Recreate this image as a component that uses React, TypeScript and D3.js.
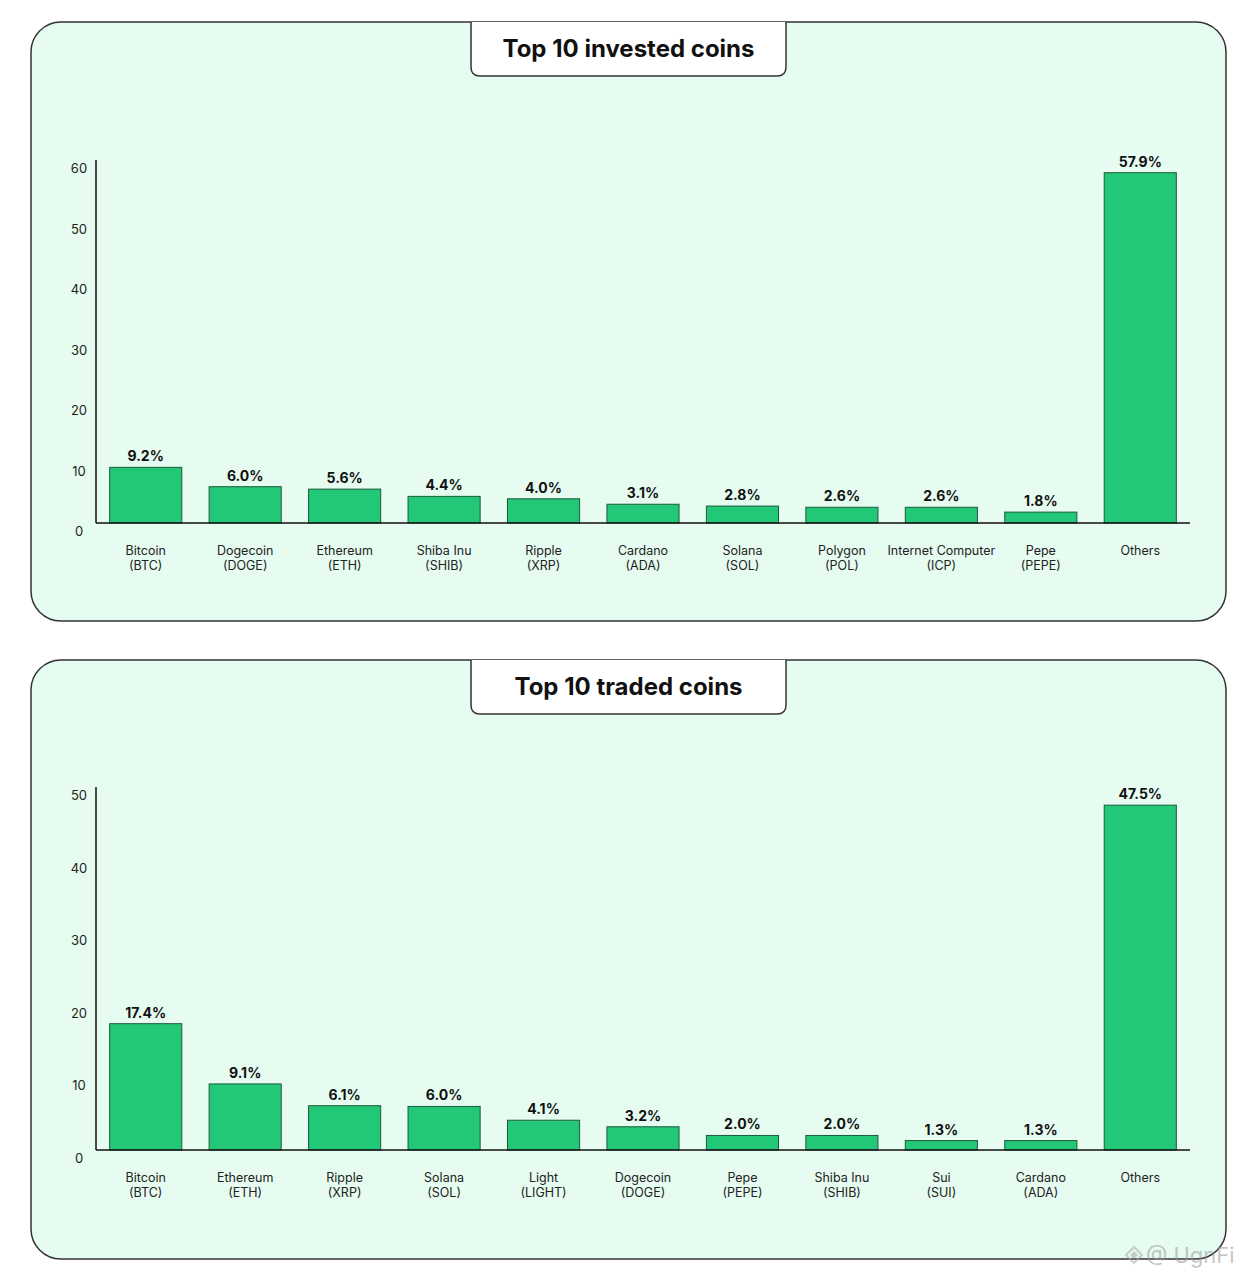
import React from "react";
import * as d3 from "d3";

const investedNames = ["Bitcoin", "Dogecoin", "Ethereum", "Shiba Inu", "Ripple", "Cardano", "Solana", "Polygon", "Internet Computer", "Pepe", "Others"];
const investedTickers = ["(BTC)", "(DOGE)", "(ETH)", "(SHIB)", "(XRP)", "(ADA)", "(SOL)", "(POL)", "(ICP)", "(PEPE)", ""];
const investedValues = [9.2, 6.0, 5.6, 4.4, 4.0, 3.1, 2.8, 2.6, 2.6, 1.8, 57.9];
const investedTicks = [0, 10, 20, 30, 40, 50, 60];

const tradedNames = ["Bitcoin", "Ethereum", "Ripple", "Solana", "Light", "Dogecoin", "Pepe", "Shiba Inu", "Sui", "Cardano", "Others"];
const tradedTickers = ["(BTC)", "(ETH)", "(XRP)", "(SOL)", "(LIGHT)", "(DOGE)", "(PEPE)", "(SHIB)", "(SUI)", "(ADA)", ""];
const tradedValues = [17.4, 9.1, 6.1, 6.0, 4.1, 3.2, 2.0, 2.0, 1.3, 1.3, 47.5];
const tradedTicks = [0, 10, 20, 30, 40, 50];

const FONT = "Inter, 'Noto Sans', sans-serif";
const fmt = d3.format(".1f");

type PanelProps = {
  top: number;
  baseY: number;
  axisTop: number;
  title: string;
  names: string[];
  tickers: string[];
  values: number[];
  ticks: number[];
};

function Panel({ top, baseY, axisTop, title, names, tickers, values, ticks }: PanelProps) {
  const panelX = 31, panelW = 1195, panelH = 599;
  const x = d3.scaleBand<string>().domain(names).range([96, 1190]).paddingInner(0.275).paddingOuter(0.1375);
  const maxTick = ticks[ticks.length - 1];
  const y = d3.scaleLinear().domain([0, maxTick]).range([baseY, axisTop]);
  const bx0 = 471, bx1 = 786, by1 = top + 54, r = 9;
  const boxPath = `M${bx0},${top} L${bx0},${by1 - r} Q${bx0},${by1} ${bx0 + r},${by1} L${bx1 - r},${by1} Q${bx1},${by1} ${bx1},${by1 - r} L${bx1},${top}`;
  return (
    <g>
      <rect x={panelX} y={top} width={panelW} height={panelH} rx={30} ry={30} fill="#e6fcf0" stroke="#333" strokeWidth={1.5} />
      <path d={boxPath} fill="#ffffff" stroke="#333" strokeWidth={1.5} />
      <text x={628.5} y={top + 35} textAnchor="middle" fontFamily={FONT} fontWeight={700} fontSize={24} fill="#111">{title}</text>
      {ticks.map((t) => (
        <text key={t} x={79} y={y(t) + 13} textAnchor="middle" fontFamily={FONT} fontSize={13} fill="#222">{t}</text>
      ))}
      {names.map((n, i) => {
        const bx = x(n)!;
        const bw = x.bandwidth();
        const cx = bx + bw / 2;
        return (
          <g key={n}>
            <rect x={bx} y={y(values[i])} width={bw} height={baseY - y(values[i])} fill="#22c777" stroke="#1d5a3c" strokeWidth={1} />
            <text x={cx} y={y(values[i]) - 6} textAnchor="middle" fontFamily={FONT} fontWeight={700} fontSize={14} fill="#111">{fmt(values[i])}%</text>
            <text x={cx} y={baseY + 32} textAnchor="middle" fontFamily={FONT} fontSize={12.5} fill="#222">{n}</text>
            {tickers[i] && (
              <text x={cx} y={baseY + 47} textAnchor="middle" fontFamily={FONT} fontSize={12.5} fill="#222">{tickers[i]}</text>
            )}
          </g>
        );
      })}
      <line x1={96} x2={96} y1={axisTop} y2={baseY} stroke="#111" strokeWidth={1.5} />
      <line x1={96} x2={1190} y1={baseY} y2={baseY} stroke="#111" strokeWidth={1.5} />
    </g>
  );
}

export default function App() {
  return (
    <svg width={1243} height={1280} style={{ position: "absolute", left: 0, top: 0, display: "block", background: "#ffffff" }}>
      <rect x={0} y={0} width={1243} height={1280} fill="#ffffff" />
      <Panel top={22} baseY={523} axisTop={160} title="Top 10 invested coins" names={investedNames} tickers={investedTickers} values={investedValues} ticks={investedTicks} />
      <Panel top={660} baseY={1150} axisTop={787} title="Top 10 traded coins" names={tradedNames} tickers={tradedTickers} values={tradedValues} ticks={tradedTicks} />
      <g opacity={0.55}>
        <path d="M1126,1255 L1134,1247 L1142,1255 L1134,1263 Z" fill="none" stroke="#aaa" strokeWidth={2} />
        <path d="M1130,1255 L1134,1251 L1138,1255 L1134,1259 Z" fill="#aaa" />
        <text x={1146} y={1263} fontFamily={FONT} fontSize={22} fill="#999">@ UgnFi</text>
      </g>
    </svg>
  );
}
